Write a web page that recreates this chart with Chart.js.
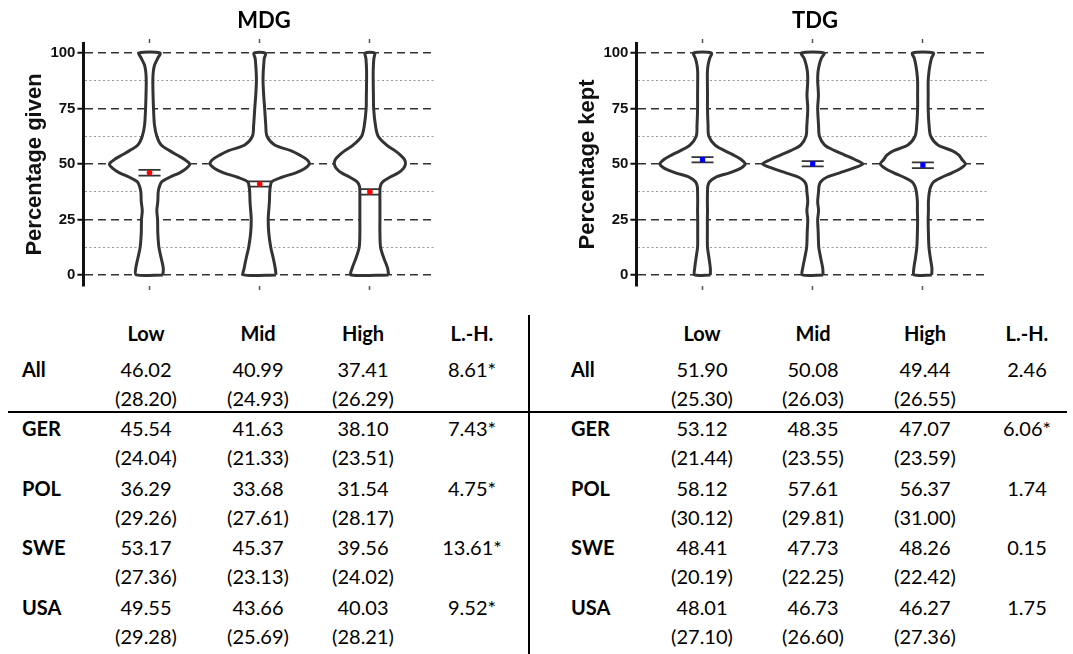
<!DOCTYPE html>
<html><head><meta charset="utf-8">
<script src="https://cdn.jsdelivr.net/npm/chart.js@4.4.0/dist/chart.umd.min.js"></script>
<style>
html,body{margin:0;padding:0;background:#fff;width:1073px;height:654px;overflow:hidden;}
body{position:relative;}
.cvw{position:absolute;top:0;width:520px;height:300px;}
.ttl{position:absolute;font-family:Lato;font-weight:bold;font-size:22px;height:26px;line-height:26px;width:200px;text-align:center;color:#000;}
.cell{position:absolute;font-family:Lato;font-size:20px;height:24px;line-height:24px;white-space:nowrap;color:#000;}
.hl{position:absolute;background:#000;}
</style></head><body>
<div class="cvw" style="left:0px"><canvas id="cL" width="520" height="300"></canvas></div>
<div class="cvw" style="left:553px"><canvas id="cR" width="520" height="300"></canvas></div>
<div class="ttl" id="tL" style="left:164px;top:7px">MDG</div>
<div class="ttl" id="tR" style="left:715px;top:7px">TDG</div>
<div class="hl" style="left:8px;top:411px;width:1059px;height:2px"></div>
<div class="hl" style="left:528px;top:315px;width:2px;height:339px"></div>
<script>
// ---------- data ----------
const categories = ['Low', 'Mid', 'High'];
const mdgMeans = [46.02, 40.99, 37.41];
const tdgMeans = [51.90, 50.08, 49.44];
const mdgErr = [1.3, 1.2, 1.2];
const tdgErr = [1.2, 1.2, 1.3];
const yTickValues = [0, 12.5, 25, 37.5, 50, 62.5, 75, 87.5, 100];
const yLabelValues = [0, 25, 50, 75, 100];
const densityLevels = [0, 3, 7.5, 12.5, 19, 25, 29, 33, 37.5, 40, 42, 44, 46, 48, 50, 52, 54, 56, 58.5, 62.5, 67.5, 75, 81, 87.5, 91.5, 94.5, 97.5, 100];
const mdgLowWidth  = [0.121,0.125,0.106,0.085,0.075,0.073,0.066,0.075,0.079,0.091,0.112,0.182,0.273,0.334,0.364,0.318,0.25,0.182,0.106,0.066,0.045,0.036,0.032,0.03,0.034,0.045,0.073,0.095];
const mdgMidWidth  = [0.148,0.141,0.123,0.1,0.082,0.077,0.082,0.088,0.091,0.097,0.109,0.2,0.327,0.409,0.45,0.427,0.364,0.282,0.136,0.066,0.055,0.045,0.036,0.03,0.032,0.036,0.041,0.052];
const mdgHighWidth = [0.17,0.161,0.127,0.097,0.091,0.091,0.091,0.091,0.091,0.095,0.118,0.182,0.259,0.305,0.323,0.314,0.277,0.227,0.152,0.075,0.05,0.034,0.032,0.03,0.03,0.032,0.036,0.043];
const tdgLowWidth  = [0.071,0.071,0.059,0.045,0.044,0.044,0.045,0.044,0.045,0.048,0.064,0.118,0.245,0.345,0.386,0.35,0.282,0.2,0.114,0.057,0.05,0.045,0.045,0.044,0.044,0.05,0.064,0.08];
const tdgMidWidth  = [0.094,0.091,0.073,0.055,0.05,0.045,0.053,0.045,0.053,0.057,0.073,0.127,0.245,0.364,0.455,0.382,0.291,0.2,0.109,0.061,0.053,0.045,0.052,0.045,0.048,0.059,0.077,0.102];
const tdgHighWidth = [0.08,0.082,0.068,0.055,0.05,0.048,0.05,0.05,0.059,0.073,0.1,0.173,0.264,0.341,0.386,0.355,0.327,0.264,0.136,0.071,0.056,0.048,0.048,0.048,0.055,0.064,0.077,0.094];

const tableHeader = ['Low', 'Mid', 'High', 'L.-H.'];
const rowLabels = ['All', 'GER', 'POL', 'SWE', 'USA'];
const mdgTableMeans = [[46.02,40.99,37.41],[45.54,41.63,38.10],[36.29,33.68,31.54],[53.17,45.37,39.56],[49.55,43.66,40.03]];
const mdgTableSD    = [[28.20,24.93,26.29],[24.04,21.33,23.51],[29.26,27.61,28.17],[27.36,23.13,24.02],[29.28,25.69,28.21]];
const mdgTableDiff  = ['8.61*','7.43*','4.75*','13.61*','9.52*'];
const tdgTableMeans = [[51.90,50.08,49.44],[53.12,48.35,47.07],[58.12,57.61,56.37],[48.41,47.73,48.26],[48.01,46.73,46.27]];
const tdgTableSD    = [[25.30,26.03,26.55],[21.44,23.55,23.59],[30.12,29.81,31.00],[20.19,22.25,22.42],[27.10,26.60,27.36]];
const tdgTableDiff  = ['2.46','6.06*','1.74','0.15','1.75'];

// ---------- charts ----------
const axisFont = "'Liberation Sans', Arial, Helvetica, sans-serif";
Chart.defaults.font.family = axisFont;
const capHalf = 0.1;
function makeChart(id, means, errs, widths, yTitle, dotColor, dotStyle, dotRadius) {
  const violins = widths.map((w, i) => {
    const c = i + 1;
    const right = densityLevels.map((v, k) => ({x: c + w[k], y: v}));
    const left = densityLevels.map((v, k) => ({x: c - w[k], y: v})).reverse();
    const pts = right.concat(left);
    pts.push(pts[0]);
    return {label: categories[i], data: pts, borderColor: '#333', borderWidth: 3,
      backgroundColor: '#fff', fill: 'shape', tension: 0.3, pointRadius: 0,
      borderJoinStyle: 'round', order: 3};
  });
  const capPts = [];
  means.forEach((m, i) => {
    const c = i + 1;
    [m + errs[i], m - errs[i]].forEach(y => {
      capPts.push({x: c - capHalf, y: y}, {x: c + capHalf, y: y}, {x: c, y: null});
    });
  });
  const caps = {label: 'se', data: capPts, borderColor: '#333', borderWidth: 1.8,
    pointRadius: 0, fill: false, spanGaps: false, tension: 0, order: 2};
  const dots = {label: 'mean', data: means.map((m, i) => ({x: i + 1, y: m})), showLine: false,
    pointRadius: dotRadius, pointStyle: dotStyle, pointBackgroundColor: dotColor,
    pointBorderColor: dotColor, pointBorderWidth: 0, order: 1};
  const xAxis = (pos) => ({
    type: 'linear', position: pos, min: 0.4, max: 3.6,
    afterBuildTicks: s => { s.ticks = [1, 2, 3].map(v => ({value: v})); },
    ticks: {display: false},
    grid: {drawOnChartArea: false, drawTicks: true, tickLength: 4, tickColor: '#555', tickWidth: 1.5},
    border: {display: false}
  });
  return new Chart(document.getElementById(id), {
    type: 'line',
    data: {datasets: [dots, caps].concat(violins)},
    options: {
      responsive: false, animation: false,
      layout: {padding: {left: 18, right: 84, top: 39, bottom: 10}},
      plugins: {legend: {display: false}, tooltip: {enabled: false}},
      events: [],
      scales: {
        x: xAxis('bottom'),
        xTop: xAxis('top'),
        y: {
          type: 'linear', min: -5, max: 104.5,
          afterBuildTicks: s => { s.ticks = yTickValues.map(v => ({value: v})); },
          ticks: {
            autoSkip: false, padding: 2, color: '#111',
            font: {family: axisFont, weight: 'bold', size: 15},
            callback: v => yLabelValues.includes(v) ? String(v) : ''
          },
          grid: {
            color: ctx => (ctx.tick && yLabelValues.includes(ctx.tick.value)) ? '#333' : '#9a9a9a',
            lineWidth: ctx => (ctx.tick && yLabelValues.includes(ctx.tick.value)) ? 1.5 : 1.1,
            drawTicks: true, tickLength: 6, tickWidth: 2, tickBorderDash: [],
            tickColor: ctx => (ctx.tick && yLabelValues.includes(ctx.tick.value)) ? '#111' : 'rgba(0,0,0,0)'
          },
          border: {
            display: true, color: '#111', width: 3,
            dash: ctx => (ctx.tick && !yLabelValues.includes(ctx.tick.value)) ? [2, 2.5] : [8, 5]
          },
          title: {display: true, text: yTitle, color: '#111', padding: {top: 4, bottom: 0},
            font: {family: axisFont, weight: 'bold', size: 22}}
        }
      }
    }
  });
}
makeChart('cL', mdgMeans, mdgErr, [mdgLowWidth, mdgMidWidth, mdgHighWidth], 'Percentage given', '#ff0000', 'circle', 2.8);
makeChart('cR', tdgMeans, tdgErr, [tdgLowWidth, tdgMidWidth, tdgHighWidth], 'Percentage kept', '#0000ff', 'rect', 3.7);

// ---------- table ----------
function addText(txt, x, y, align, bold) {
  const d = document.createElement('div');
  d.className = 'cell';
  d.textContent = txt;
  if (bold) d.style.fontWeight = 'bold';
  d.style.top = (y - 12.5) + 'px';
  if (align === 'center') { d.style.left = (x - 60) + 'px'; d.style.width = '120px'; d.style.textAlign = 'center'; }
  else { d.style.left = x + 'px'; }
  document.body.appendChild(d);
}
function addTable(labelX, colX, means, sds, diffs) {
  const headerY = 333, firstY = 369, groupStep = 59.5, lineStep = 29.2;
  tableHeader.forEach((h, j) => addText(h, colX[j], headerY, 'center', true));
  rowLabels.forEach((r, i) => {
    const y = firstY + i * groupStep;
    addText(r, labelX, y, 'left', true);
    means[i].forEach((m, j) => {
      addText(m.toFixed(2), colX[j], y, 'center', false);
      addText('(' + sds[i][j].toFixed(2) + ')', colX[j], y + lineStep, 'center', false);
    });
    addText(diffs[i], colX[3], y, 'center', false);
  });
}
addTable(22, [146, 258, 363, 472], mdgTableMeans, mdgTableSD, mdgTableDiff);
addTable(571, [702, 813, 925, 1027], tdgTableMeans, tdgTableSD, tdgTableDiff);
</script>
</body></html>
